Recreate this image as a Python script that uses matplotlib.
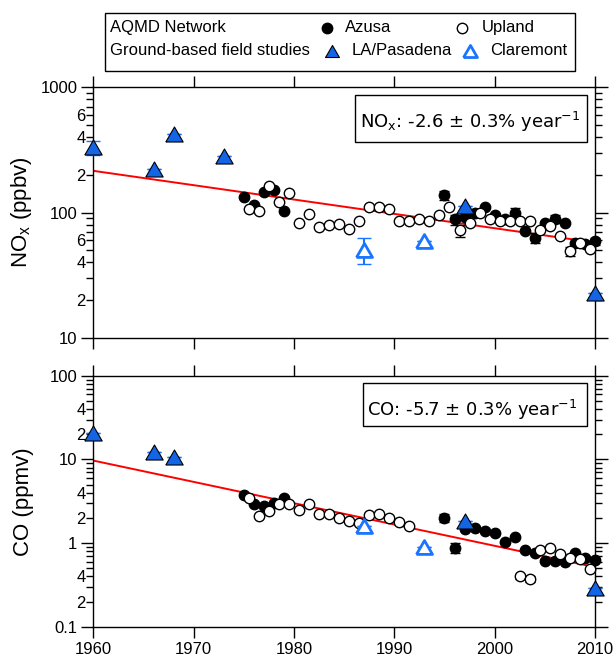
import numpy as np
import matplotlib
matplotlib.use("Agg")
import matplotlib.pyplot as plt
from matplotlib.ticker import FixedLocator, FuncFormatter
from matplotlib.lines import Line2D
from matplotlib.patches import Rectangle

plt.rcParams["font.family"] = ["Liberation Sans", "DejaVu Sans"]
plt.rcParams["mathtext.fontset"] = "custom"
plt.rcParams["mathtext.rm"] = "DejaVu Sans"

# AQMD network, Azusa (annual means, whole years)
azusa_year = [1975, 1976, 1977, 1978, 1979, 1995, 1996, 1997, 1998, 1999, 2000,
              2001, 2002, 2003, 2004, 2005, 2006, 2007, 2008, 2009, 2010]
azusa_nox = [132, 115, 147, 150, 102, 137, 88, 92, 100, 110, 96,
             88, 100, 71, 63, 82, 89, 83, 57, 56, 59]
azusa_nox_err = [0, 0, 0, 0, 0, 12, 8, 0, 0, 0, 0,
                 0, 8, 0, 6, 0, 6, 0, 0, 0, 4]
azusa_co = [3.8, 2.9, 2.8, 3.0, 3.5, 2.0, 0.88, 1.46, 1.5, 1.4, 1.33,
            1.04, 1.17, 0.83, 0.77, 0.61, 0.61, 0.60, 0.76, 0.67, 0.62]
azusa_co_err = [0, 0, 0, 0, 0, 0.2, 0.12, 0, 0, 0, 0,
                0, 0, 0, 0, 0, 0, 0, 0, 0, 0]

# AQMD network, Upland (plotted at mid-year)
upland_nox_year = [1975.5, 1976.5, 1977.5, 1978.5, 1979.5, 1980.5, 1981.5, 1982.5,
                   1983.5, 1984.5, 1985.5, 1986.5, 1987.5, 1988.5, 1989.5, 1990.5,
                   1991.5, 1992.5, 1993.5, 1994.5, 1995.5, 1996.5, 1997.5, 1998.5,
                   1999.5, 2000.5, 2001.5, 2002.5, 2003.5, 2004.5, 2005.5, 2006.5,
                   2007.5, 2008.5, 2009.5]
upland_nox = [107, 103, 164, 122, 143, 82, 97, 76,
              79, 81, 74, 85, 110, 110, 107, 85,
              85, 88, 85, 96, 110, 72, 82, 100,
              89, 85, 85, 85, 85, 72, 78, 65,
              49, 57, 51]
upland_nox_err = [0] * 21 + [8] + [0] * 10 + [4, 0, 0]

upland_co_year = [1975.5, 1976.5, 1977.5, 1978.5, 1979.5, 1980.5, 1981.5, 1982.5,
                  1983.5, 1984.5, 1985.5, 1986.5, 1987.5, 1988.5, 1989.5, 1990.5,
                  1991.5, 2002.5, 2003.5, 2004.5, 2005.5, 2006.5, 2007.5, 2008.5,
                  2009.5]
upland_co = [3.5, 2.1, 2.4, 2.9, 2.9, 2.5, 2.9, 2.2,
             2.2, 2.0, 1.85, 1.75, 2.15, 2.25, 2.0, 1.8,
             1.6, 0.40, 0.37, 0.82, 0.88, 0.73, 0.66, 0.64,
             0.49]
upland_co_err = [0] * 17 + [0.03, 0.03] + [0] * 6

# Ground-based field studies
la_nox_year = [1960, 1966, 1968, 1973, 1997, 2010]
la_nox = [330, 223, 422, 284, 113, 23]
la_nox_err = [45, 0, 0, 0, 0, 0]
la_co_year = [1960, 1966, 1968, 1997, 2010]
la_co = [20.9, 12.4, 10.8, 1.85, 0.29]

claremont_year = [1987, 1993]
claremont_nox = [50.6, 58.9]
claremont_nox_err = [12, 0]
claremont_co = [1.6, 0.9]

# exponential fits: value in 1960, % change per year, uncertainty
nox_fit = (215.0, -2.6, 0.3)
co_fit = (9.7, -5.7, 0.3)

BLUE = "#1464e6"
BLUE_OPEN = "#1a74ff"
TRI = [(-1, -0.866), (1, -0.866), (0, 0.866), (-1, -0.866)]

fig = plt.figure(figsize=(6.14, 6.60), dpi=100)
ax_nox = fig.add_axes([0.152, 0.488, 0.817, 0.380])
ax_co = fig.add_axes([0.152, 0.0505, 0.817, 0.380])


def noclip(container):
    for art in container.get_children():
        art.set_clip_on(False)


def draw_panel(ax, ay, a, aerr, uy, u, uerr, ly, l, lerr, cy, c, cerr, fit):
    t = np.linspace(1960, 2010, 100)
    ax.plot(t, fit[0] * (1 + fit[1] / 100.0) ** (t - 1960), color="red", lw=1.4, zorder=2)
    eb = ax.errorbar(ay, a, yerr=aerr, fmt="o", ms=7.5, mfc="black", mec="black",
                     mew=1, ecolor="black", elinewidth=1, capsize=3.5, zorder=3)
    noclip(eb)
    eb = ax.errorbar(uy, u, yerr=uerr, fmt="o", ms=7.5, mfc="white", mec="black",
                     mew=1, ecolor="black", elinewidth=1, capsize=3.5, zorder=3)
    noclip(eb)
    ax.errorbar(cy, c, yerr=cerr, fmt="none", ecolor=BLUE_OPEN, elinewidth=1.5,
                capsize=5, zorder=4)
    ax.plot(cy, c, linestyle="none", marker=TRI, ms=11.5, mfc="white", mec=BLUE_OPEN,
            mew=2, zorder=5)
    eb = ax.errorbar(ly, l, yerr=lerr, fmt="none", ecolor=BLUE_OPEN, elinewidth=1.5,
                     capsize=5, zorder=4)
    noclip(eb)
    ax.plot(ly, l, linestyle="none", marker=TRI, ms=12.5, mfc=BLUE, mec="black",
            mew=0.8, zorder=6, clip_on=False)


def style_axes(ax, decades, labeled):
    ax.set_yscale("log")
    ax.set_xlim(1960, 2010)
    ax.set_ylim(decades[0], decades[-1])
    ax.yaxis.set_major_locator(FixedLocator(decades))
    minor = [m * d for d in decades[:-1] for m in range(2, 10)]
    ax.yaxis.set_minor_locator(FixedLocator(minor))
    ax.yaxis.set_major_formatter(FuncFormatter(lambda v, p: "%g" % v))

    def minor_fmt(v, p):
        m = int(round(v / 10 ** np.floor(np.log10(v) + 1e-9)))
        return str(m) if m in labeled else ""
    ax.yaxis.set_minor_formatter(FuncFormatter(minor_fmt))
    ax.xaxis.set_major_locator(FixedLocator(range(1960, 2011, 10)))
    ax.tick_params(axis="both", which="both", direction="out", left=True, right=True,
                   top=True, bottom=True, labelright=False, labeltop=False,
                   labelsize=12, colors="black")
    ax.tick_params(axis="y", which="major", length=9, width=1, pad=2.5)
    ax.tick_params(axis="y", which="minor", length=5, width=1, pad=0.5)
    ax.tick_params(axis="x", which="major", length=8, width=1, pad=3)
    for s in ax.spines.values():
        s.set_linewidth(1)
        s.set_color("black")


draw_panel(ax_nox, azusa_year, azusa_nox, azusa_nox_err,
           upland_nox_year, upland_nox, upland_nox_err,
           la_nox_year, la_nox, la_nox_err,
           claremont_year, claremont_nox, claremont_nox_err, nox_fit)
draw_panel(ax_co, azusa_year, azusa_co, azusa_co_err,
           upland_co_year, upland_co, upland_co_err,
           la_co_year, la_co, [0] * len(la_co),
           claremont_year, claremont_co, [0, 0], co_fit)

style_axes(ax_nox, [10, 100, 1000], (2, 4, 6))
style_axes(ax_co, [0.1, 1, 10, 100], (2, 4))
ax_nox.tick_params(axis="x", labelbottom=False)

ax_nox.set_ylabel(r"NO$_\mathregular{x}$ (ppbv)", fontsize=16)
ax_co.set_ylabel("CO (ppmv)", fontsize=16)
ax_nox.yaxis.set_label_coords(-0.118, 0.5)
ax_co.yaxis.set_label_coords(-0.118, 0.5)

# trend boxes
ax_nox.add_patch(Rectangle((0.522, 0.782), 0.462, 0.187, transform=ax_nox.transAxes,
                           fc="white", ec="black", lw=1, zorder=9))
ax_nox.text(0.532, 0.863,
            r"NO$_\mathregular{x}$: %.1f ± %.1f%% year$^\mathregular{-1}$" % nox_fit[1:],
            transform=ax_nox.transAxes, ha="left", va="center", fontsize=13,
            family="DejaVu Sans", zorder=10)
ax_co.add_patch(Rectangle((0.5376, 0.80), 0.4464, 0.172, transform=ax_co.transAxes,
                          fc="white", ec="black", lw=1, zorder=9))
ax_co.text(0.546, 0.866,
           r"CO: %.1f ± %.1f%% year$^\mathregular{-1}$" % co_fit[1:],
           transform=ax_co.transAxes, ha="left", va="center", fontsize=13,
           family="DejaVu Sans", zorder=10)

# legend box drawn in figure coordinates
fig.add_artist(Rectangle((0.171, 0.892), 0.765, 0.088, transform=fig.transFigure,
                         fc="white", ec="black", lw=1))
row1, row2 = 0.958, 0.923
fs = 12
fig.text(0.179, row1, "AQMD Network", fontsize=fs, va="center")
fig.text(0.179, row2, "Ground-based field studies", fontsize=fs, va="center")
fig.add_artist(Line2D([0.533], [row1], transform=fig.transFigure, marker="o", ms=7.5,
                      mfc="black", mec="black", linestyle="none"))
fig.text(0.562, row1, "Azusa", fontsize=fs, va="center")
fig.add_artist(Line2D([0.752], [row1], transform=fig.transFigure, marker="o", ms=7.5,
                      mfc="white", mec="black", linestyle="none"))
fig.text(0.785, row1, "Upland", fontsize=fs, va="center")
fig.add_artist(Line2D([0.541], [row2], transform=fig.transFigure, marker=TRI, ms=10,
                      mfc=BLUE, mec="black", mew=0.8, linestyle="none"))
fig.text(0.572, row2, "LA/Pasadena", fontsize=fs, va="center")
fig.add_artist(Line2D([0.765], [row2], transform=fig.transFigure, marker=TRI, ms=10,
                      mfc="white", mec=BLUE_OPEN, mew=2, linestyle="none"))
fig.text(0.798, row2, "Claremont", fontsize=fs, va="center")

fig.savefig("out.png", dpi=100)
